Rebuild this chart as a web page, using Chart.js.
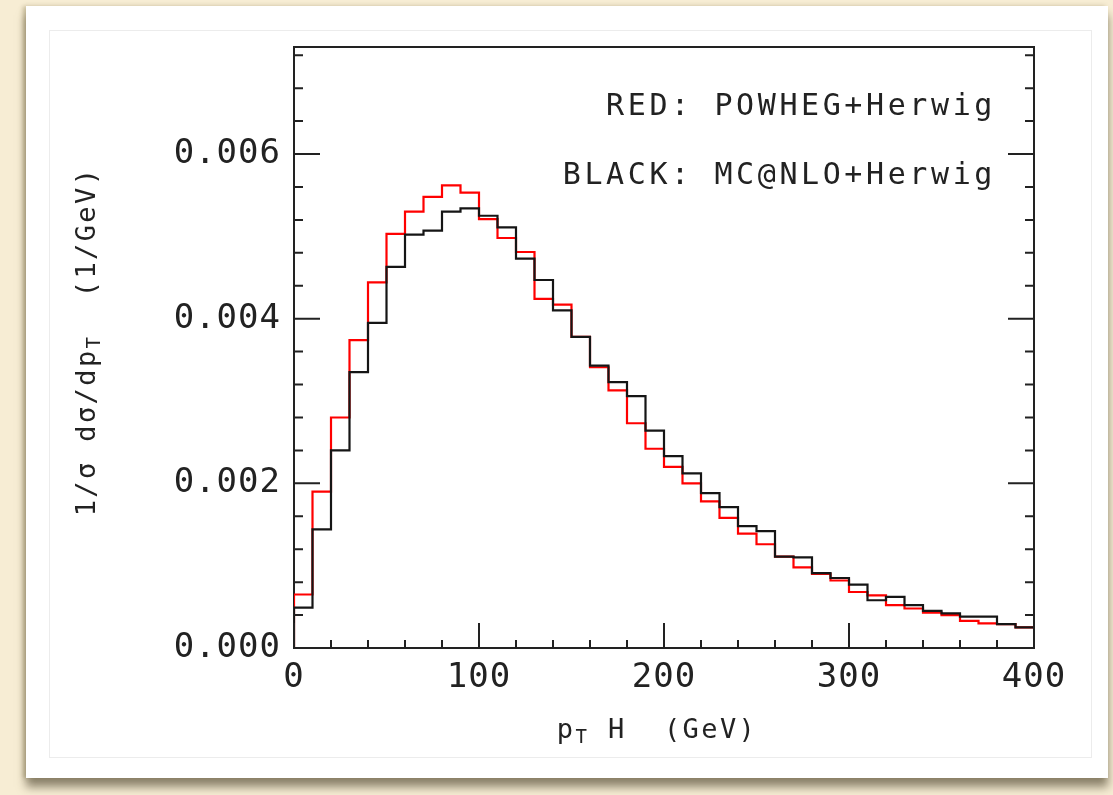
<!DOCTYPE html>
<html>
<head>
<meta charset="utf-8">
<title>pT H spectrum</title>
<script src="https://cdn.jsdelivr.net/npm/chart.js@4.4.1/dist/chart.umd.min.js"></script>
<style>
  html, body { margin: 0; padding: 0; width: 1113px; height: 795px; overflow: hidden; background: #f7edd4; }
  .card { position: absolute; left: 26px; top: 6px; width: 1082px; height: 772px; background: #fff;
          box-shadow: -3px 0 4px rgba(120, 105, 60, 0.35), 0 9px 9px rgba(70, 62, 40, 0.6); }
  .inner { position: absolute; left: 49px; top: 30px; width: 1041px; height: 726px; border: 1px solid #ececec; }
  canvas { position: absolute; left: 0; top: 0; }
</style>
</head>
<body>
<div class="card"></div>
<div class="inner"></div>
<canvas id="myChart" width="1113" height="795"></canvas>
<script>
//-------------------------- Data ----------------------------------------

// left edge of each 10 GeV bin
const binLow = [0, 10, 20, 30, 40, 50, 60, 70, 80, 90,
                100, 110, 120, 130, 140, 150, 160, 170, 180, 190,
                200, 210, 220, 230, 240, 250, 260, 270, 280, 290,
                300, 310, 320, 330, 340, 350, 360, 370, 380, 390]

// RED: POWHEG+Herwig
const powheg = [0.00065, 0.00190, 0.00280, 0.00374, 0.00444, 0.00503, 0.00530, 0.00548, 0.00562, 0.00553,
                0.00521, 0.00498, 0.00481, 0.00424, 0.00417, 0.00378, 0.00341, 0.00313, 0.00273, 0.00242,
                0.00220, 0.00200, 0.00178, 0.00158, 0.00139, 0.00126, 0.00111, 0.00098, 0.00090, 0.00082,
                0.00068, 0.00064, 0.00052, 0.00048, 0.00043, 0.00040, 0.00033, 0.00030, 0.00029, 0.00025]

// BLACK: MC@NLO+Herwig
const mcatnlo = [0.00049, 0.00144, 0.00240, 0.00335, 0.00395, 0.00463, 0.00502, 0.00507, 0.00530, 0.00534,
                 0.00525, 0.00511, 0.00473, 0.00447, 0.00410, 0.00378, 0.00343, 0.00323, 0.00306, 0.00264,
                 0.00233, 0.00212, 0.00188, 0.00171, 0.00148, 0.00142, 0.00111, 0.00110, 0.00091, 0.00085,
                 0.00077, 0.00058, 0.00062, 0.00052, 0.00045, 0.00042, 0.00038, 0.00038, 0.00029, 0.00025]

const xMin = 0
const xMax = 400
const xMajor = [0, 100, 200, 300, 400]
const xMinorStep = 20
const yMin = 0
const yMax = 0.0073
const yMajor = [0.000, 0.002, 0.004, 0.006]
const yMinorStep = 0.0004

const legendLines = ['RED: POWHEG+Herwig', 'BLACK: MC@NLO+Herwig']

//-------------------------- Helpers ----------------------------------------

// histogram outline: one point per bin at its left edge, plus the closing edge.
// stepped 'before' holds each value until the next edge
const histPoints = (vals) => {
    const pts = [{x: binLow[0], y: 0}]
    binLow.forEach((x, i) => pts.push({x: x, y: vals[i]}))
    pts.push({x: xMax, y: vals[vals.length - 1]})
    return pts
}

const isMajor = (v, list) => list.some(m => Math.abs(m - v) < 1e-9)

const monoFont = 'DejaVu Sans Mono'

// draw text runs left to right; each run is [text, size, baseline shift]
const runWidth = (ctx, runs) => runs.reduce((w, r) => {
    ctx.font = `${r[1]}px "${monoFont}"`
    return w + ctx.measureText(r[0]).width
}, 0)

const drawRuns = (ctx, runs, x, y) => {
    runs.forEach(r => {
        ctx.font = `${r[1]}px "${monoFont}"`
        ctx.fillText(r[0], x, y + r[2])
        x += ctx.measureText(r[0]).width
    })
}

//-------------------------- Plugins ----------------------------------------

const spacing = {
    id: 'spacing',
    beforeDraw(chart) { chart.ctx.letterSpacing = '1px' },
    afterDraw(chart) { chart.ctx.letterSpacing = '0px' }
}

const frameTicks = {
    id: 'frameTicks',
    afterDraw(chart) {
        const {ctx, chartArea: a, scales: {x, y}} = chart
        ctx.save()
        ctx.strokeStyle = '#222'
        ctx.lineWidth = 2
        ctx.beginPath()
        ctx.moveTo(a.left, a.top)
        ctx.lineTo(a.right, a.top)
        ctx.lineTo(a.right, a.bottom)
        x.ticks.forEach(t => {
            const px = x.getPixelForValue(t.value)
            const len = isMajor(t.value, xMajor) ? 25 : 8
            ctx.moveTo(px, a.bottom)
            ctx.lineTo(px, a.bottom - len)
        })
        y.ticks.forEach(t => {
            const py = y.getPixelForValue(t.value)
            const len = isMajor(t.value, yMajor) ? 26 : 9
            ctx.moveTo(a.left, py)
            ctx.lineTo(a.left + len, py)
            ctx.moveTo(a.right, py)
            ctx.lineTo(a.right - len, py)
        })
        ctx.stroke()
        ctx.restore()
    }
}

const labels = {
    id: 'labels',
    afterDraw(chart) {
        const {ctx, chartArea: a} = chart
        ctx.save()
        ctx.fillStyle = '#222'
        ctx.textBaseline = 'alphabetic'

        // legend text, top right inside the frame
        ctx.letterSpacing = '3.6px'
        ctx.textAlign = 'right'
        ctx.font = `30px "${monoFont}"`
        ctx.fillText(legendLines[0], a.right - 38, a.top + 68)
        ctx.fillText(legendLines[1], a.right - 38, a.top + 137)

        // x axis title
        ctx.letterSpacing = '2.4px'
        ctx.textAlign = 'left'
        const xRuns = [['p', 27, 0], ['T', 19, 5], [' H  (GeV)', 27, 0]]
        const xw = runWidth(ctx, xRuns)
        drawRuns(ctx, xRuns, (a.left + a.right) / 2 - xw / 2 - 7, a.bottom + 90)

        // y axis title, reading upwards
        const yRuns = [['1/σ dσ/dp', 27, 0], ['T', 19, 5], ['  (1/GeV)', 27, 0]]
        ctx.translate(95, (a.top + a.bottom) / 2 - 6)
        ctx.rotate(-Math.PI / 2)
        const yw = runWidth(ctx, yRuns)
        drawRuns(ctx, yRuns, -yw / 2, 0)
        ctx.restore()
    }
}

//-------------------------- Chart ----------------------------------------

const canvas = document.getElementById('myChart')

const data = {
    datasets: [
        {
            label: 'MC@NLO+Herwig',
            data: histPoints(mcatnlo),
            borderColor: '#151515',
            borderWidth: 2.2,
            stepped: 'before',
            pointRadius: 0,
            fill: false
        },
        {
            label: 'POWHEG+Herwig',
            data: histPoints(powheg),
            borderColor: '#ff0000',
            borderWidth: 2.2,
            stepped: 'before',
            pointRadius: 0,
            fill: false
        }
    ]
}

const config = {
    type: 'line',
    data: data,
    options: {
        responsive: false,
        animation: false,
        devicePixelRatio: 1,
        layout: {padding: {left: 0, top: 47, right: 79, bottom: 47}},
        plugins: {legend: {display: false}, tooltip: {enabled: false}},
        scales: {
            x: {
                type: 'linear',
                min: xMin,
                max: xMax,
                afterFit: s => { s.height = 100 },
                grid: {display: false, drawTicks: false},
                border: {display: true, color: '#222', width: 2},
                ticks: {
                    stepSize: xMinorStep,
                    autoSkip: false,
                    includeBounds: false,
                    maxRotation: 0,
                    padding: 10,
                    color: '#222',
                    font: {family: monoFont, size: 34},
                    callback: v => isMajor(v, xMajor) ? String(v) : ''
                }
            },
            y: {
                type: 'linear',
                min: yMin,
                max: yMax,
                afterFit: s => { s.width = 294 },
                grid: {display: false, drawTicks: false},
                border: {display: true, color: '#222', width: 2},
                ticks: {
                    stepSize: yMinorStep,
                    autoSkip: false,
                    includeBounds: false,
                    padding: 13,
                    color: '#222',
                    font: {family: monoFont, size: 34},
                    callback: v => isMajor(v, yMajor) ? v.toFixed(3) : ''
                }
            }
        }
    },
    plugins: [spacing, frameTicks, labels]
}

const myChart = new Chart(canvas, config)
</script>
</body>
</html>
